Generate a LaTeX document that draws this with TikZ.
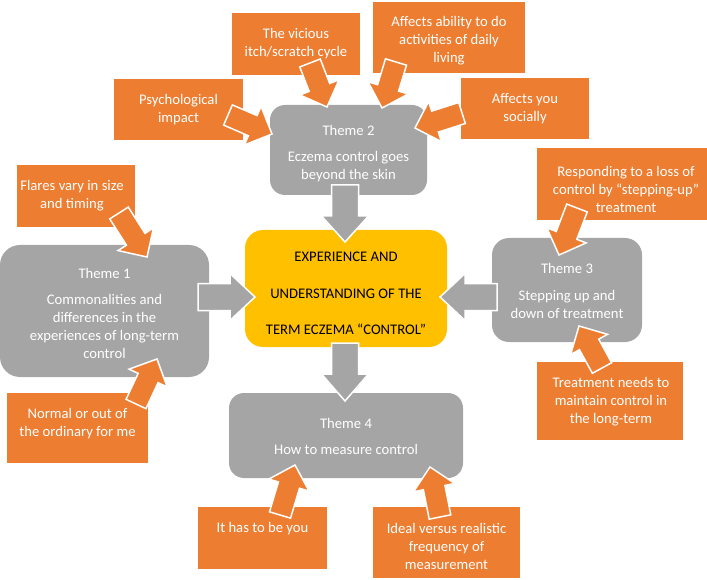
\documentclass[tikz,border=0pt]{standalone}
\usepackage{fontspec}
\setmainfont{Carlito}
\usetikzlibrary{calc}
\definecolor{org}{HTML}{ED7D31}
\definecolor{gry}{HTML}{A5A5A5}
\definecolor{ylw}{HTML}{FFC000}
% block arrow: #1 style, #2 tail, #3 tip, #4 half shaft, #5 half head, #6 head length
\newcommand\barrow[6]{%
  \coordinate (bc) at ($(#3)!#6!(#2)$);
  \draw[#1] ($(#2)!#4!90:(#3)$) -- ($(bc)!#4!90:(#3)$) -- ($(bc)!#5!90:(#3)$) -- (#3)
    -- ($(bc)!#5!-90:(#3)$) -- ($(bc)!#4!-90:(#3)$) -- ($(#2)!#4!-90:(#3)$) -- cycle;}
\begin{document}
\begin{tikzpicture}[x=1pt,y=-1pt,
  obox/.style={fill=org, draw=none, inner sep=0, outer sep=0},
  gbox/.style={fill=gry, draw=none, inner sep=0, outer sep=0, rounded corners=#1},
  ybox/.style={fill=ylw, draw=none, inner sep=0, outer sep=0, rounded corners=18pt},
  txt/.style={text=white, align=center, inner sep=0, font=\fontsize{14.67}{18}\selectfont},
  ctxt/.style={text=black, align=center, inner sep=0, font=\fontsize{14.67}{18}\selectfont},
  oarrow/.style={fill=org, draw=white, line width=1.5pt, line join=miter},
  garrow/.style={fill=gry, draw=white, line width=1.5pt, line join=miter}]
\useasboundingbox (0,0) rectangle (707,580);

% orange boxes
\node[obox, minimum width=129pt, minimum height=61pt] (psy) at (178.5,109.5) {};
\node[txt] (psyt) at (178.5,109.5) {Psychological\\impact};
\node[obox, minimum width=128pt, minimum height=62pt] (vic) at (296,44) {};
\node[txt] (vict) at (296,44) {The vicious\\itch/scratch cycle};
\node[obox, minimum width=152pt, minimum height=71pt] (aad) at (449,37.5) {};
\node[txt] (aadt) at (449,41) {Affects ability to do\\activities of daily\\living};
\node[obox, minimum width=128pt, minimum height=61pt] (soc) at (525,108.5) {};
\node[txt] (soct) at (525,108.5) {Affects you\\socially};
\node[obox, minimum width=118pt, minimum height=62pt] (fla) at (76,196) {};
\node[txt] (flat) at (72,196) {Flares vary in size\\and timing};
\node[obox, minimum width=141pt, minimum height=70pt] (nor) at (77.5,428) {};
\node[txt] (nort) at (77.5,424) {Normal or out of\\the ordinary for me};
\node[obox, minimum width=178pt, minimum height=72pt] (res) at (626,184) {};
\node[txt] (rest) at (626,189.5) {Responding to a loss of\\control by “stepping-up”\\treatment};
\node[obox, minimum width=146pt, minimum height=78pt] (tre) at (610,401) {};
\node[txt] (tret) at (611,402) {Treatment needs to\\maintain control in\\the long-term};
\node[obox, minimum width=129pt, minimum height=62pt] (ith) at (262.5,538) {};
\node[txt] (itht) at (262.5,529) {It has to be you};
\node[obox, minimum width=147pt, minimum height=71pt] (ide) at (446.5,542.5) {};
\node[txt] (idet) at (446.5,546) {Ideal versus realistic\\frequency of\\measurement};

% grey theme boxes
\node[gbox=20pt, minimum width=209pt, minimum height=132pt] (t1) at (104.5,311) {};
\node[txt] (t1t) at (104.5,313) {Theme 1\\[8pt]Commonalities and\\differences in the\\experiences of long-term\\control};
\node[gbox=15pt, minimum width=157pt, minimum height=90pt] (t2) at (348.5,150) {};
\node[txt] (t2t) at (348.5,154) {Theme 2\\[8pt]Eczema control goes\\beyond the skin};
\node[gbox=17pt, minimum width=150pt, minimum height=104pt] (t3) at (567,290) {};
\node[txt] (t3t) at (567,290.5) {Theme 3\\[9pt]Stepping up and\\down of treatment};
\node[gbox=15pt, minimum width=234pt, minimum height=85pt] (t4) at (346,435.5) {};
\node[txt] (t4t) at (346,436) {Theme 4\\[8pt]How to measure control};

% centre
\node[ybox, minimum width=202pt, minimum height=117pt] (ctr) at (346,288.5) {};
\node[ctxt] (ctrt) at (346,293.5) {EXPERIENCE AND\\[18.5pt]UNDERSTANDING OF THE\\[18.5pt]TERM ECZEMA “CONTROL”};

% arrow end points
\coordinate (g1s) at (345,185);  \coordinate (g1e) at (345,242);
\coordinate (g2s) at (198,297);  \coordinate (g2e) at (255,297);
\coordinate (g3s) at (497,297);  \coordinate (g3e) at (440,297);
\coordinate (g4s) at (345,343);  \coordinate (g4e) at (345,401);

\coordinate (o1s) at (228,115);  \coordinate (o1e) at (272,134);
\coordinate (o2s) at (310,63);   \coordinate (o2e) at (327,107);
\coordinate (o3s) at (396,62);   \coordinate (o3e) at (382,108);
\coordinate (o4s) at (462,113);  \coordinate (o4e) at (415,128);
\coordinate (o5s) at (119,213);  \coordinate (o5e) at (147,257);
\coordinate (o6s) at (136,404);  \coordinate (o6e) at (157,359);
\coordinate (o7s) at (577,208);  \coordinate (o7e) at (559,255);
\coordinate (o8s) at (602,368);  \coordinate (o8e) at (579,326);
\coordinate (o9s) at (280,515);  \coordinate (o9e) at (295,465);
\coordinate (o10s) at (440,517); \coordinate (o10e) at (430,467);

% grey arrows
\barrow{garrow}{g1s}{g1e}{13.5pt}{23.5pt}{26pt}
\barrow{garrow}{g2s}{g2e}{13.5pt}{23.5pt}{25pt}
\barrow{garrow}{g3s}{g3e}{13.5pt}{23.5pt}{25pt}
\barrow{garrow}{g4s}{g4e}{13.5pt}{23.5pt}{27pt}

% orange arrows
\barrow{oarrow}{o1s}{o1e}{11pt}{21pt}{21pt}
\barrow{oarrow}{o2s}{o2e}{11pt}{21pt}{21pt}
\barrow{oarrow}{o3s}{o3e}{11pt}{21pt}{21pt}
\barrow{oarrow}{o4s}{o4e}{11pt}{21pt}{21pt}
\barrow{oarrow}{o5s}{o5e}{11pt}{21pt}{21pt}
\barrow{oarrow}{o6s}{o6e}{11pt}{21pt}{21pt}
\barrow{oarrow}{o7s}{o7e}{11pt}{21pt}{21pt}
\barrow{oarrow}{o8s}{o8e}{11pt}{21pt}{21pt}
\barrow{oarrow}{o9s}{o9e}{11pt}{21pt}{21pt}
\barrow{oarrow}{o10s}{o10e}{11pt}{21pt}{21pt}
\end{tikzpicture}
\end{document}
